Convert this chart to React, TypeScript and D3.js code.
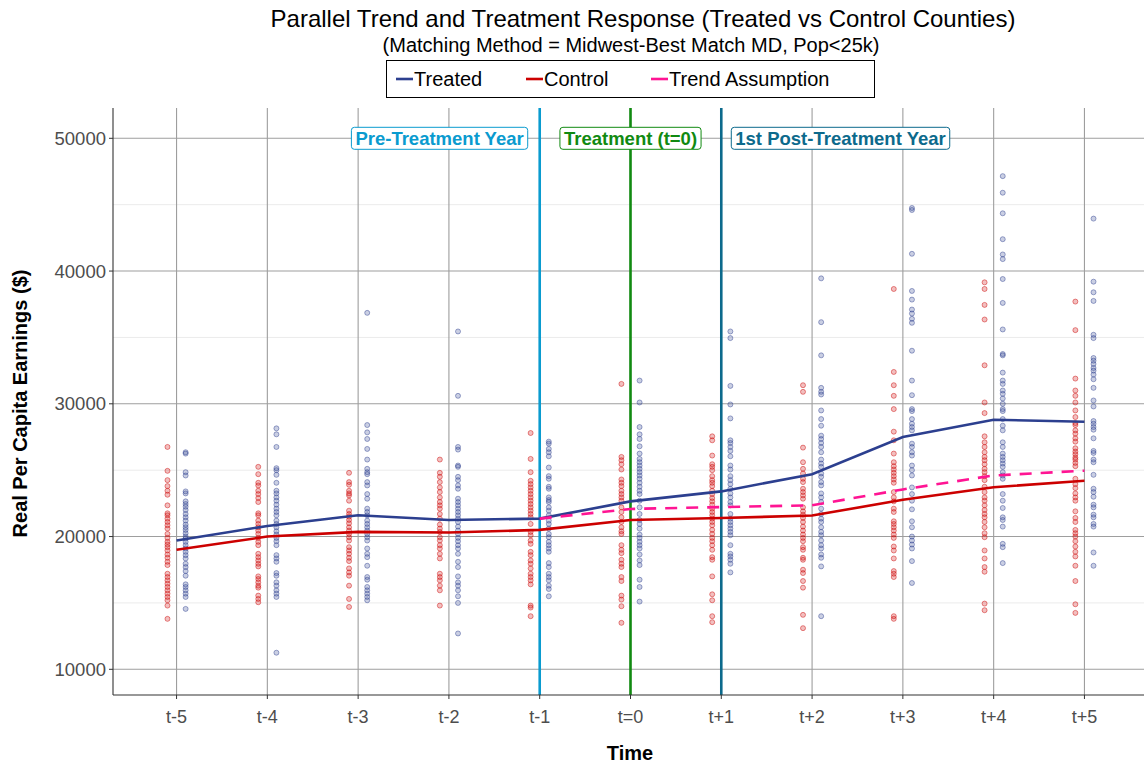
import React, { useLayoutEffect, useRef, useState } from "react";
import * as d3 from "d3";

// time periods relative to treatment
const timeIdx = [-5, -4, -3, -2, -1, 0, 1, 2, 3, 4, 5];
const timeLabels = ["t-5", "t-4", "t-3", "t-2", "t-1", "t=0", "t+1", "t+2", "t+3", "t+4", "t+5"];

// group means
const treatedMean = [19700, 20800, 21600, 21250, 21350, 22650, 23400, 24700, 27500, 28800, 28650];
const controlMean = [19000, 20000, 20350, 20300, 20500, 21250, 21400, 21580, 22770, 23720, 24200];
const trendIdx = [-1, 0, 1, 2, 3, 4, 5];
const trendVals = [21350, 22080, 22220, 22350, 23550, 24600, 24960];

// county-level observations, one list per period
const controlPts = [
  [26750, 24950, 24250, 23800, 23450, 23150, 22350, 21750, 21600, 21350, 21100, 20850, 20600, 20200, 19900, 19600, 19400, 19200, 18950, 18650, 18400, 18100, 17850, 17200, 16950, 16700, 16450, 16200, 15950, 15700, 15450, 15200, 14800, 13800],
  [25250, 24700, 24050, 23850, 23450, 23200, 22900, 22600, 21750, 21600, 21200, 20950, 20700, 20450, 20200, 19900, 19600, 19350, 18700, 18450, 18200, 17950, 17750, 17000, 16800, 16550, 16300, 16150, 15550, 15300, 15050],
  [24800, 24100, 23900, 23450, 23250, 23100, 22700, 21950, 21700, 21500, 21250, 21000, 20700, 20450, 20200, 19950, 19700, 19200, 18950, 18700, 18400, 18150, 17600, 17300, 17050, 16300, 15300, 14700],
  [25800, 24800, 24500, 24100, 23700, 23350, 22950, 22600, 22350, 22100, 21700, 21350, 20900, 20600, 20350, 19950, 19700, 19350, 19100, 18700, 18350, 17200, 16950, 16700, 16300, 15950, 14800],
  [27800, 25850, 24850, 24200, 23950, 23700, 23450, 23200, 22950, 22700, 22450, 22200, 21950, 21700, 21450, 20950, 20350, 20100, 19700, 19450, 18850, 18600, 18200, 17950, 17600, 17200, 16950, 16700, 16400, 14800, 14650, 14000],
  [31500, 26000, 25750, 25450, 25050, 24300, 24050, 23800, 23450, 23200, 22950, 22700, 22200, 21850, 21450, 21100, 20700, 20400, 20200, 19350, 19000, 18750, 18250, 17950, 17700, 16950, 16650, 15550, 15250, 14750, 13500],
  [27550, 27250, 26100, 25450, 25250, 25000, 24550, 24250, 24050, 23800, 23450, 23200, 22900, 22650, 22400, 22100, 21850, 21600, 21350, 21100, 20850, 20500, 20200, 19900, 19650, 19350, 19000, 18450, 18250, 17000, 15650, 15200, 14000, 13550],
  [31400, 30900, 26700, 25600, 25100, 24750, 24350, 24100, 23600, 23350, 23100, 22850, 22200, 21900, 21650, 21400, 21100, 20750, 20450, 20150, 19900, 19650, 19200, 19000, 18400, 18250, 17500, 17250, 16650, 16150, 14100, 13100],
  [38650, 32400, 31400, 30600, 29600, 27900, 27250, 26250, 25600, 25300, 25050, 24800, 24550, 24300, 24050, 23350, 22950, 22650, 22100, 21850, 21150, 20950, 20700, 20450, 20150, 19900, 19250, 18950, 18350, 17400, 17200, 16950, 14000, 13800],
  [39150, 38650, 37450, 36350, 32900, 30100, 29300, 27550, 27100, 26750, 26350, 26000, 25750, 25450, 25100, 24850, 24550, 24250, 23750, 23350, 22950, 22700, 22350, 22000, 21700, 21450, 21100, 20700, 20250, 19950, 18950, 18350, 17700, 17350, 14950, 14450],
  [37700, 35550, 31900, 31000, 30600, 30100, 29500, 29000, 28550, 28400, 28000, 27750, 27400, 27150, 26650, 26400, 26200, 25950, 25800, 25550, 25300, 24350, 23950, 23650, 23250, 22950, 22700, 21900, 21400, 21100, 20500, 20250, 20000, 19650, 19250, 18850, 18500, 17800, 16650, 14900, 14250],
];

const treatedPts = [
  [26350, 26250, 24850, 24600, 23400, 23250, 22650, 22450, 22250, 22000, 21700, 21450, 21200, 20900, 20700, 20500, 20250, 20000, 19850, 19600, 19350, 19100, 18850, 18600, 18350, 17950, 17700, 17400, 17050, 16400, 16200, 15950, 15700, 15450, 14550],
  [28150, 27700, 26750, 25150, 25000, 24650, 24050, 23450, 23250, 22950, 22700, 22400, 22100, 21850, 21600, 21200, 20950, 20700, 20400, 20150, 19900, 19650, 19350, 18600, 18350, 18100, 17250, 17050, 16550, 16300, 15950, 15700, 15450, 11250],
  [36850, 28400, 27850, 27350, 26600, 25800, 25100, 24850, 24700, 24100, 23850, 23200, 22850, 22100, 21850, 21600, 21200, 20950, 20700, 20450, 20200, 19950, 19700, 19100, 18700, 18450, 17800, 16950, 16750, 16200, 15950, 15700, 15450, 15200],
  [35450, 30600, 26750, 26550, 25350, 25250, 24500, 24250, 23850, 23600, 22850, 22600, 22350, 22100, 21850, 21600, 21350, 21100, 20750, 20450, 20200, 19900, 19650, 19350, 19100, 18700, 18100, 17700, 17000, 16550, 16300, 15950, 15500, 15000, 12700],
  [27150, 27000, 26600, 26350, 26050, 25200, 24550, 24350, 23750, 23600, 22950, 22750, 22600, 22200, 21950, 21600, 21200, 20950, 20600, 20200, 19950, 19600, 19350, 19100, 18850, 18000, 17700, 17200, 16950, 16700, 16300, 16050, 15500],
  [31750, 30100, 28250, 27700, 27350, 26800, 26250, 25850, 25600, 25350, 25100, 24850, 24600, 24350, 24050, 23750, 23450, 23200, 22700, 22200, 21700, 21250, 20950, 20600, 20150, 19900, 19600, 19350, 19100, 18650, 18200, 17850, 16750, 16200, 15100],
  [35450, 34950, 31350, 29950, 28900, 27250, 27050, 26750, 26450, 26050, 25350, 25050, 24550, 24250, 23950, 23600, 23250, 22950, 22600, 22350, 21700, 21350, 21100, 20850, 20600, 20350, 20100, 19350, 18700, 18500, 18250, 17950, 17300],
  [39450, 36150, 33650, 31200, 30900, 30700, 29500, 28850, 28350, 27600, 27350, 27050, 26750, 26350, 25800, 25500, 25250, 24750, 24500, 24100, 23850, 23250, 22950, 22600, 22100, 21700, 21350, 21100, 20700, 20350, 20100, 19700, 19350, 19100, 18650, 18400, 17750, 14000],
  [44750, 44600, 41300, 38500, 37850, 37100, 36800, 36400, 36100, 34000, 31750, 30650, 29600, 29450, 28850, 28500, 28250, 28000, 27000, 26750, 26350, 26100, 25350, 25000, 24600, 23700, 23200, 22700, 22050, 21150, 20700, 20000, 19700, 19400, 19100, 18150, 16500],
  [47150, 45900, 44350, 42400, 41250, 40900, 39400, 37600, 35600, 33750, 33650, 32350, 31750, 31500, 31000, 30750, 30400, 30000, 29600, 29450, 28850, 28350, 28000, 27100, 26750, 26250, 26000, 25750, 25500, 25250, 24850, 24600, 24350, 23200, 22700, 22150, 21450, 21250, 20750, 19450, 19200, 18000],
  [43950, 39200, 38400, 37750, 35200, 34950, 33450, 33250, 33000, 32700, 32500, 32200, 31850, 31200, 30250, 29800, 28700, 28500, 28250, 28050, 27400, 26450, 26300, 25800, 25600, 24650, 23600, 23350, 23000, 22400, 22200, 21650, 21450, 20950, 20750, 18800, 17800],
];

const yTicks = [10000, 20000, 30000, 40000, 50000];
const yMinor = [15000, 25000, 35000, 45000];

const W = 1144;
const H = 767;
const FONT = "'Liberation Sans', Arial, sans-serif";

const TREATED = "#2c3f8f";
const CONTROL = "#cc0000";
const TREND = "#ff1493";

const x = d3.scaleLinear().domain([-5.7, 5.7]).range([113, 1148]);
const y = d3.scaleLinear().domain([8064, 52283]).range([695, 108]);

const lineGen = d3
  .line<[number, number]>()
  .x((d) => x(d[0]))
  .y((d) => y(d[1]));

const markers = [
  { t: -1, color: "#0a9bcf", label: "Pre-Treatment Year", anchor: "end" },
  { t: 0, color: "#118a11", label: "Treatment (t=0)", anchor: "middle" },
  { t: 1, color: "#0c6a8c", label: "1st Post-Treatment Year", anchor: "start" },
];

function MarkerLabel({ m }: { m: (typeof markers)[number] }) {
  const ref = useRef<SVGTextElement>(null);
  const [tw, setTw] = useState(150);
  useLayoutEffect(() => {
    if (ref.current) setTw(ref.current.getComputedTextLength());
  }, []);
  const pad = 4;
  const bw = tw + pad * 2;
  const cx = x(m.t);
  let left = cx - bw / 2;
  if (m.anchor === "end") left = cx - 12 - bw;
  if (m.anchor === "start") left = cx + 10;
  const top = y(50000) - 11;
  return (
    <g>
      <rect x={left} y={top} width={bw} height={22} rx={3} fill="white" stroke={m.color} strokeWidth={1} />
      <text ref={ref} x={left + bw / 2} y={top + 17.5} textAnchor="middle" fontSize={18.5} fontWeight="bold" fill={m.color} fontFamily={FONT}>
        {m.label}
      </text>
    </g>
  );
}

export default function App() {
  const panelL = 113;
  const panelR = 1148;
  const panelT = 108;
  const panelB = 695;

  return (
    <svg width={W} height={H} style={{ position: "absolute", left: 0, top: 0, background: "white" }} fontFamily={FONT}>
      <defs>
        <clipPath id="panel">
          <rect x={panelL} y={panelT} width={panelR - panelL} height={panelB - panelT} />
        </clipPath>
      </defs>

      {/* grid */}
      {yMinor.map((v) => (
        <line key={"mn" + v} x1={panelL} x2={panelR} y1={y(v)} y2={y(v)} stroke="#ebebeb" strokeWidth={1} />
      ))}
      {yTicks.map((v) => (
        <line key={"mj" + v} x1={panelL} x2={panelR} y1={y(v)} y2={y(v)} stroke="#9e9e9e" strokeWidth={1.1} />
      ))}
      {timeIdx.map((t) => (
        <line key={"v" + t} x1={x(t)} x2={x(t)} y1={panelT} y2={panelB} stroke="#9e9e9e" strokeWidth={1.1} />
      ))}

      <g clipPath="url(#panel)">
        {/* points */}
        {controlPts.map((vals, i) =>
          vals.map((v, j) => (
            <circle key={`c${i}-${j}`} cx={x(timeIdx[i] - 0.1)} cy={y(v)} r={2.5} fill={CONTROL} fillOpacity={0.25} stroke={CONTROL} strokeOpacity={0.5} strokeWidth={0.9} />
          ))
        )}
        {treatedPts.map((vals, i) =>
          vals.map((v, j) => (
            <circle key={`t${i}-${j}`} cx={x(timeIdx[i] + 0.1)} cy={y(v)} r={2.5} fill={TREATED} fillOpacity={0.25} stroke={TREATED} strokeOpacity={0.5} strokeWidth={0.9} />
          ))
        )}

        {/* marker lines */}
        {markers.map((m) => (
          <line key={"m" + m.t} x1={x(m.t)} x2={x(m.t)} y1={panelT} y2={panelB} stroke={m.color} strokeWidth={2.6} />
        ))}

        {/* mean lines */}
        <path d={lineGen(timeIdx.map((t, i) => [t, controlMean[i]]) as [number, number][]) || ""} fill="none" stroke={CONTROL} strokeWidth={2.6} />
        <path d={lineGen(timeIdx.map((t, i) => [t, treatedMean[i]]) as [number, number][]) || ""} fill="none" stroke={TREATED} strokeWidth={2.6} />
        <path d={lineGen(trendIdx.map((t, i) => [t, trendVals[i]]) as [number, number][]) || ""} fill="none" stroke={TREND} strokeWidth={2.6} strokeDasharray="12 9" />
      </g>

      {markers.map((m) => (
        <MarkerLabel key={"ml" + m.t} m={m} />
      ))}

      {/* axes */}
      <line x1={panelL} x2={panelL} y1={panelT} y2={panelB} stroke="#333" strokeWidth={1.1} />
      <line x1={panelL} x2={panelR} y1={panelB} y2={panelB} stroke="#333" strokeWidth={1.1} />
      {yTicks.map((v) => (
        <g key={"yt" + v}>
          <line x1={panelL - 4} x2={panelL} y1={y(v)} y2={y(v)} stroke="#333" />
          <text x={panelL - 7} y={y(v) + 6.5} textAnchor="end" fontSize={18.5} fill="#4d4d4d">
            {v}
          </text>
        </g>
      ))}
      {timeIdx.map((t, i) => (
        <g key={"xt" + t}>
          <line x1={x(t)} x2={x(t)} y1={panelB} y2={panelB + 4} stroke="#333" />
          <text x={x(t)} y={panelB + 28} textAnchor="middle" fontSize={18} fill="#4d4d4d">
            {timeLabels[i]}
          </text>
        </g>
      ))}

      {/* axis titles */}
      <text x={630} y={760} textAnchor="middle" fontSize={20} fontWeight="bold" fill="#000">
        Time
      </text>
      <text transform={`translate(27, ${(panelT + panelB) / 2 + 2}) rotate(-90)`} textAnchor="middle" fontSize={20} fontWeight="bold" fill="#000">
        Real Per Capita Earnings ($)
      </text>

      {/* titles */}
      <text x={643} y={27} textAnchor="middle" fontSize={24} fill="#000">
        Parallel Trend and Treatment Response (Treated vs Control Counties)
      </text>
      <text x={631} y={52} textAnchor="middle" fontSize={20} fill="#000">
        (Matching Method = Midwest-Best Match MD, Pop&lt;25k)
      </text>

      {/* legend */}
      <rect x={386.5} y={60.5} width={488} height={37} fill="white" stroke="#000" strokeWidth={1} />
      {[
        { label: "Treated", color: TREATED, x0: 396 },
        { label: "Control", color: CONTROL, x0: 526 },
        { label: "Trend Assumption", color: TREND, x0: 651 },
      ].map((l) => (
        <g key={l.label}>
          <line x1={l.x0} x2={l.x0 + 17} y1={79} y2={79} stroke={l.color} strokeWidth={2.6} />
          <text x={l.x0 + 18} y={86} fontSize={20} fill="#000">
            {l.label}
          </text>
        </g>
      ))}
    </svg>
  );
}
